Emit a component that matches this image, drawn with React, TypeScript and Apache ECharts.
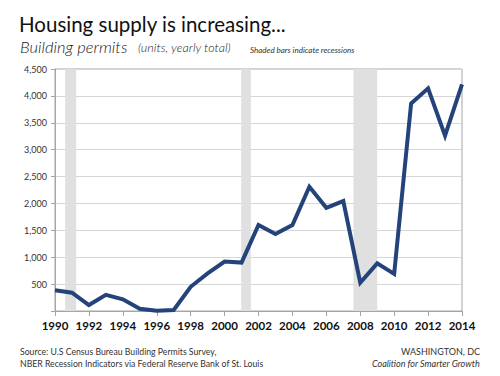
import React, { useEffect, useRef } from "react";
import * as echarts from "echarts";

const years = [1990, 1991, 1992, 1993, 1994, 1995, 1996, 1997, 1998, 1999, 2000, 2001, 2002, 2003, 2004, 2005, 2006, 2007, 2008, 2009, 2010, 2011, 2012, 2013, 2014];
const permits = [385, 340, 110, 300, 218, 40, 5, 20, 450, 700, 920, 900, 1600, 1430, 1600, 2310, 1920, 2045, 525, 885, 690, 3860, 4140, 3260, 4215];
const recessions: [number, number][] = [
  [1990.6, 1991.25],
  [2000.98, 2001.55],
  [2007.6, 2009.0],
];
const title = "Housing supply is increasing...";
const subtitle = "Building permits";
const units = "(units, yearly total)";
const note = "Shaded bars indicate recessions";
const sourceLines = ["Source: U.S Census Bureau Building Permits Survey,", "NBER Recession Indicators via Federal Reserve Bank of St. Louis"];
const creditLines = ["WASHINGTON, DC", "Coalition for Smarter Growth"];

const FONT = "Lato, 'Open Sans', sans-serif";

export default function App() {
  const ref = useRef<HTMLDivElement>(null);
  useEffect(() => {
    if (!ref.current) return;
    const chart = echarts.init(ref.current, undefined, { renderer: "svg" });
    chart.setOption({
      animation: false,
      backgroundColor: "#ffffff",
      textStyle: { fontFamily: FONT },
      grid: { left: 55, right: 38, top: 69, bottom: 65, show: true, borderColor: "#a6a6a6", borderWidth: 1 },
      xAxis: {
        type: "value",
        min: 1990,
        max: 2014,
        interval: 2,
        axisLine: { show: true, lineStyle: { color: "#a6a6a6" } },
        axisTick: { show: true, length: 5, lineStyle: { color: "#a6a6a6" } },
        splitLine: { show: false },
        axisLabel: { color: "#111", fontWeight: "bold", fontSize: 11.5, fontFamily: FONT, margin: 8, formatter: (v: number) => String(v) },
      },
      yAxis: {
        type: "value",
        min: 0,
        max: 4500,
        interval: 500,
        axisLine: { show: true, lineStyle: { color: "#a6a6a6" } },
        axisTick: { show: true, length: 4, lineStyle: { color: "#a6a6a6" } },
        splitLine: { show: true, lineStyle: { color: "#d6d6d6", width: 1 } },
        axisLabel: {
          color: "#333",
          fontSize: 9,
          fontFamily: FONT,
          margin: 8,
          formatter: (v: number) => (v === 0 ? "" : v.toLocaleString("en-US")),
        },
      },
      series: [
        {
          type: "line",
          data: years.map((y, i) => [y, permits[i]]),
          symbol: "none",
          lineStyle: { color: "#23437a", width: 4, join: "miter" },
          z: 5,
          markArea: {
            silent: true,
            itemStyle: { color: "#e0e0e0" },
            data: recessions.map(([a, b]) => [{ xAxis: a }, { xAxis: b }]),
          },
        },
      ],
      graphic: [
        { type: "text", left: 19, top: 13, style: { text: title, fontSize: 20.5, fontWeight: 400, fontFamily: FONT, fill: "#111" } },
        { type: "text", left: 20, top: 38, style: { text: subtitle, fontSize: 16.5, fontStyle: "italic", fontWeight: 300, fontFamily: FONT, fill: "#222" } },
        { type: "text", left: 138, top: 41, style: { text: units, fontSize: 12.5, fontStyle: "italic", fontWeight: 300, fontFamily: FONT, fill: "#222" } },
        { type: "text", left: 250, top: 46, style: { text: note, fontSize: 8, fontStyle: "italic", fontFamily: FONT, fill: "#333" } },
        { type: "text", left: 20, top: 347, style: { text: sourceLines[0], fontSize: 8.7, fontFamily: FONT, fill: "#333" } },
        { type: "text", left: 20, top: 359, style: { text: sourceLines[1], fontSize: 8.7, fontFamily: FONT, fill: "#333" } },
        { type: "text", right: 20, top: 347, style: { text: creditLines[0], fontSize: 9, fontFamily: FONT, fill: "#333", align: "right" } },
        { type: "text", right: 20, top: 359, style: { text: creditLines[1], fontSize: 9, fontStyle: "italic", fontFamily: FONT, fill: "#333", align: "right" } },
      ],
    });
    return () => chart.dispose();
  }, []);
  return <div ref={ref} style={{ width: 500, height: 376, position: "absolute", left: 0, top: 0 }} />;
}
